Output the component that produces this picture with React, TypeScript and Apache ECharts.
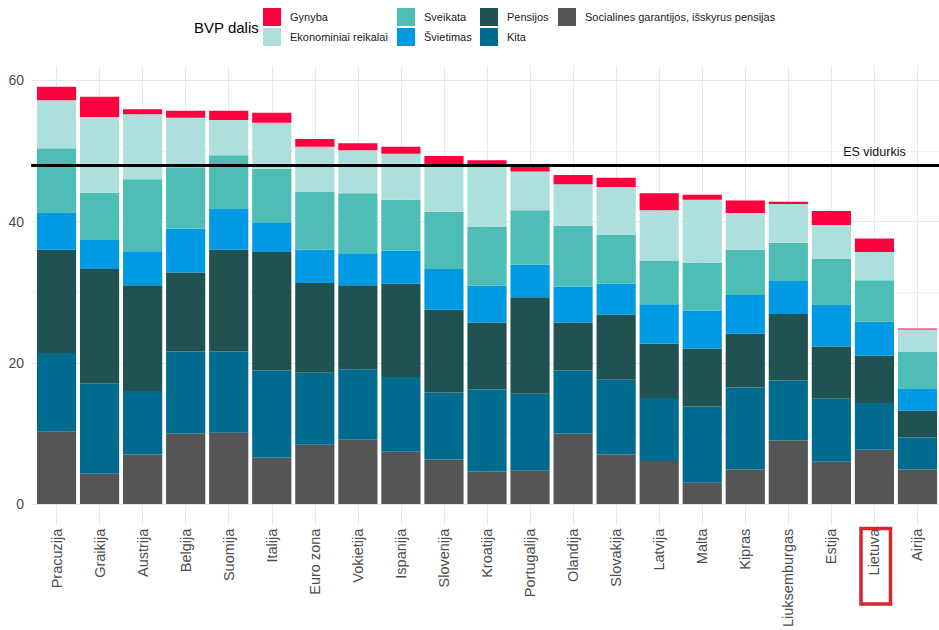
import React, { useEffect, useRef } from "react";
import * as echarts from "echarts";

const categories = [
  "Pracuzija", "Graikija", "Austrija", "Belgija", "Suomija", "Italija", "Euro zona",
  "Vokietija", "Ispanija", "Slovenija", "Kroatija", "Portugalija", "Olandija", "Slovakija",
  "Latvija", "Malta", "Kipras", "Liuksemburgas", "Estija", "Lietuva", "Airija",
];

const socialines = [10.3, 4.3, 7.0, 10.0, 10.1, 6.6, 8.4, 9.1, 7.4, 6.3, 4.6, 4.7, 10.0, 7.0, 6.1, 3.0, 4.9, 9.0, 6.0, 7.7, 4.9];
const kita = [11.1, 12.8, 9.0, 11.6, 11.5, 12.3, 10.2, 10.0, 10.6, 9.5, 11.6, 10.9, 8.9, 10.6, 8.9, 10.8, 11.6, 8.5, 8.9, 6.6, 4.5];
const pensijos = [14.6, 16.2, 15.0, 11.2, 14.4, 16.8, 12.7, 11.9, 13.2, 11.7, 9.5, 13.7, 6.8, 9.2, 7.7, 8.2, 7.6, 9.4, 7.4, 6.7, 3.8];
const svietimas = [5.2, 4.1, 4.8, 6.2, 5.8, 4.1, 4.7, 4.5, 4.7, 5.8, 5.2, 4.6, 5.1, 4.4, 5.6, 5.4, 5.5, 4.7, 5.9, 4.8, 3.1];
const sveikata = [9.2, 6.7, 10.2, 8.7, 7.6, 7.7, 8.2, 8.5, 7.2, 8.1, 8.4, 7.7, 8.6, 6.9, 6.1, 6.8, 6.4, 5.4, 6.5, 5.9, 5.3];
const ekonominiai = [6.8, 10.7, 9.2, 7.0, 5.0, 6.5, 6.4, 6.1, 6.5, 6.7, 8.6, 5.5, 5.9, 6.8, 7.2, 8.9, 5.2, 5.5, 4.8, 4.0, 3.1];
const gynyba = [1.9, 2.9, 0.7, 1.0, 1.3, 1.4, 1.1, 1.0, 1.0, 1.2, 0.8, 0.8, 1.3, 1.3, 2.4, 0.7, 1.8, 0.3, 2.0, 1.9, 0.15];

const esVidurkis = 48.0;
const esLabel = "ES vidurkis";
const esLabelValue = 49.9;
const highlighted = "Lietuva";
const legendTitle = "BVP dalis";
const yMin = 0;
const yMax = 60;
const yInterval = 20;

const FONT = "'Liberation Sans', Arial, Helvetica, sans-serif";

const seriesDefs = [
  { name: "Socialines garantijos, išskyrus pensijas", data: socialines, color: "#555555" },
  { name: "Kita", data: kita, color: "#006A8F" },
  { name: "Pensijos", data: pensijos, color: "#1F5250" },
  { name: "Švietimas", data: svietimas, color: "#009AE4" },
  { name: "Sveikata", data: sveikata, color: "#4DBDB5" },
  { name: "Ekonominiai reikalai", data: ekonominiai, color: "#ADE0DC" },
  { name: "Gynyba", data: gynyba, color: "#FF0040" },
];

const legendGroups = [
  { left: 263, items: ["Gynyba", "Ekonominiai reikalai"] },
  { left: 397, items: ["Sveikata", "Švietimas"] },
  { left: 480, items: ["Pensijos", "Kita"] },
  { left: 558, items: ["Socialines garantijos, išskyrus pensijas"] },
];

export default function App() {
  const ref = useRef<HTMLDivElement>(null);

  useEffect(() => {
    if (!ref.current) return;
    const chart = echarts.init(ref.current, null, { renderer: "svg" });

    const pxPerUnit = (504.3 - 80.4) / 60;
    const barTop = 66;
    const barBottom = 525;
    const zeroY = 504.3;
    const barMax = (zeroY - barTop) / pxPerUnit;
    const barMin = -(barBottom - zeroY) / pxPerUnit;

    const option: any = {
      animation: false,
      backgroundColor: "#ffffff",
      textStyle: { fontFamily: FONT },
      legend: legendGroups.map((g) => ({
        orient: "vertical",
        left: g.left,
        top: 8,
        padding: 0,
        itemWidth: 18,
        itemHeight: 18,
        itemGap: 2,
        icon: "rect",
        selectedMode: false,
        data: g.items,
        textStyle: { fontSize: 11, color: "#1a1a1a", fontFamily: FONT, padding: [0, 0, 0, 4] },
      })),
      graphic: [
        {
          type: "text",
          left: 194,
          top: 20,
          style: { text: legendTitle, fontSize: 15, fill: "#000", fontFamily: FONT },
        },
        {
          type: "rect",
          shape: { x: 861, y: 528.5, width: 29.5, height: 75.5 },
          style: { fill: "none", stroke: "#d6262e", lineWidth: 3.5 },
          z: 100,
        },
      ],
      grid: [
        { left: 31, right: 0, top: 80.4, bottom: 630 - zeroY },
        { left: 35, width: 905, top: barTop, bottom: 630 - barBottom },
      ],
      xAxis: [
        { type: "value", gridIndex: 0, min: 0, max: 1, show: false },
        {
          type: "category",
          gridIndex: 1,
          data: categories,
          axisLine: { show: false },
          axisTick: { show: false },
          axisLabel: {
            rotate: 90,
            interval: 0,
            margin: 4,
            fontSize: 14.5,
            color: "#4d4d4d",
            fontFamily: FONT,
          },
        },
      ],
      yAxis: [
        {
          type: "value",
          gridIndex: 0,
          min: yMin,
          max: yMax,
          interval: yInterval,
          axisLine: { show: false },
          axisTick: { show: false },
          axisLabel: { fontSize: 14, color: "#4d4d4d", margin: 7, fontFamily: FONT },
          splitLine: { show: true, lineStyle: { color: "#e9e9e9", width: 1 } },
          minorTick: { show: false, splitNumber: 2 },
          minorSplitLine: { show: true, lineStyle: { color: "#f2f2f2", width: 1 } },
        },
        { type: "value", gridIndex: 1, min: barMin, max: barMax, show: false, splitLine: { show: false } },
      ],
      series: [
        {
          name: "vgrid",
          type: "line",
          xAxisIndex: 1,
          yAxisIndex: 1,
          data: [],
          z: 0,
          silent: true,
          markLine: {
            silent: true,
            z: 0,
            symbol: "none",
            label: { show: false },
            lineStyle: { color: "#e9e9e9", width: 1, type: "solid" },
            data: categories.map((c) => ({ xAxis: c })),
          },
          markPoint: {
            silent: true,
            z: 10,
            symbol: "circle",
            symbolSize: 1,
            itemStyle: { color: "rgba(0,0,0,0)" },
            label: {
              show: true,
              position: "inside",
              formatter: esLabel,
              fontSize: 12.5,
              color: "#111",
              fontFamily: FONT,
            },
            data: [{ coord: [highlighted, esLabelValue] }],
          },
        },
        ...seriesDefs.map((s) => ({
          name: s.name,
          type: "bar",
          stack: "total",
          xAxisIndex: 1,
          yAxisIndex: 1,
          data: s.data,
          barCategoryGap: "9%",
          itemStyle: { color: s.color },
          z: 2,
        })),
        {
          name: "es",
          type: "line",
          xAxisIndex: 0,
          yAxisIndex: 0,
          data: [],
          silent: true,
          markLine: {
            silent: true,
            z: 10,
            symbol: "none",
            label: { show: false },
            lineStyle: { color: "#000", width: 3, type: "solid" },
            data: [{ yAxis: esVidurkis }],
          },
        },
      ],
    };

    chart.setOption(option);
    return () => chart.dispose();
  }, []);

  return (
    <div
      ref={ref}
      style={{ position: "fixed", left: 0, top: 0, width: 939, height: 630, background: "#fff" }}
    />
  );
}
